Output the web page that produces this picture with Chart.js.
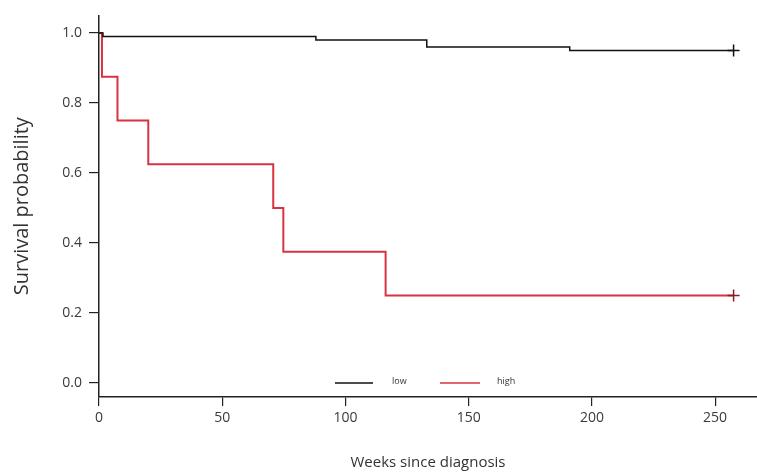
<!DOCTYPE html>
<html>
<head>
<meta charset="utf-8">
<script src="https://cdn.jsdelivr.net/npm/chart.js@4.4.0/dist/chart.umd.min.js"></script>
<style>
    html, body {margin: 0; padding: 0; background: #fff;}
    #wrap {width: 757px; height: 474px;}
</style>
</head>
<body>
<div id="wrap"><canvas id="kmChart"></canvas></div>
<script>
    // survival steps (weeks, survival)
    const lowWeeks = [0, 1.6, 88, 133, 191, 257.5];
    const lowSurv = [1.0, 0.99, 0.98, 0.96, 0.95, 0.95];
    const highWeeks = [0, 1.2, 7.5, 20, 70.7, 74.8, 116.3, 257.5];
    const highSurv = [1.0, 0.875, 0.75, 0.625, 0.5, 0.375, 0.25, 0.25];
    const groupNames = ['low', 'high'];
    const xTicks = [0, 50, 100, 150, 200, 250];
    const yTicks = [0, 0.2, 0.4, 0.6, 0.8, 1.0];

    const toPoints = (xs, ys) => xs.map((x, i) => ({x: x, y: ys[i]}));
    const lastOnly = size => ctx => ctx.dataIndex === ctx.dataset.data.length - 1 ? size : 0;

    const fontFamily = '"Open Sans", "Noto Sans", sans-serif';

    // legend drawn inside the plot, just above the 0.0 level
    const innerLegend = {
        id: 'innerLegend',
        afterDatasetsDraw(chart) {
            const ctx = chart.ctx;
            const y = chart.scales.y.getPixelForValue(0);
            const entries = [
                {x1: 335, x2: 373, tx: 392, color: '#111', label: groupNames[0]},
                {x1: 440, x2: 480, tx: 497, color: '#d8333f', label: groupNames[1]}
            ];
            ctx.save();
            ctx.font = '9px ' + fontFamily;
            ctx.textBaseline = 'middle';
            entries.forEach(e => {
                ctx.strokeStyle = e.color;
                ctx.lineWidth = 1.6;
                ctx.beginPath();
                ctx.moveTo(e.x1, y);
                ctx.lineTo(e.x2, y);
                ctx.stroke();
                ctx.fillStyle = '#333';
                ctx.fillText(e.label, e.tx, y - 2);
            });
            ctx.restore();
        }
    };

    new Chart(document.getElementById('kmChart'), {
        type: 'line',
        data: {
            datasets: [{
                label: groupNames[0],
                data: toPoints(lowWeeks, lowSurv),
                stepped: true,
                borderColor: '#111',
                borderWidth: 1.5,
                pointStyle: 'cross',
                pointRadius: lastOnly(6),
                pointBorderColor: '#111',
                pointBorderWidth: 1.5,
                fill: false
            }, {
                label: groupNames[1],
                data: toPoints(highWeeks, highSurv),
                stepped: true,
                borderColor: '#d8333f',
                borderWidth: 2,
                pointStyle: 'cross',
                pointRadius: lastOnly(6),
                pointBorderColor: '#8b1c24',
                pointBorderWidth: 1.5,
                fill: false
            }]
        },
        options: {
            responsive: true,
            maintainAspectRatio: false,
            animation: false,
            layout: {autoPadding: false, padding: {top: 12, right: 0, left: 0, bottom: 0}},
            plugins: {
                legend: {display: false},
                tooltip: {enabled: false}
            },
            scales: {
                x: {
                    type: 'linear',
                    min: 0,
                    max: 267,
                    afterBuildTicks: scale => { scale.ticks = xTicks.map(v => ({value: v})); },
                    afterFit: scale => { scale.height = 77; },
                    grid: {drawOnChartArea: false, tickLength: 9, color: '#222', lineWidth: 1.2},
                    border: {color: '#222', width: 1.5},
                    ticks: {
                        color: '#3a3a3a',
                        padding: 4,
                        maxRotation: 0,
                        font: {family: fontFamily, size: 14}
                    },
                    title: {
                        display: true,
                        text: 'Weeks since diagnosis',
                        color: '#333',
                        padding: {top: 0, bottom: 2},
                        font: {family: fontFamily, size: 15}
                    }
                },
                y: {
                    type: 'linear',
                    min: -0.04,
                    max: 1.05,
                    afterBuildTicks: scale => { scale.ticks = yTicks.map(v => ({value: v})); },
                    afterFit: scale => { scale.width = 99; },
                    grid: {drawOnChartArea: false, tickLength: 10, color: '#222', lineWidth: 1.2},
                    border: {color: '#222', width: 1.5},
                    ticks: {
                        color: '#3a3a3a',
                        padding: 7,
                        callback: v => v.toFixed(1),
                        font: {family: fontFamily, size: 14}
                    },
                    title: {
                        display: true,
                        text: 'Survival probability',
                        color: '#333',
                        padding: {top: 10, bottom: 0},
                        font: {family: fontFamily, size: 20}
                    }
                }
            }
        },
        plugins: [innerLegend]
    });
</script>
</body>
</html>
